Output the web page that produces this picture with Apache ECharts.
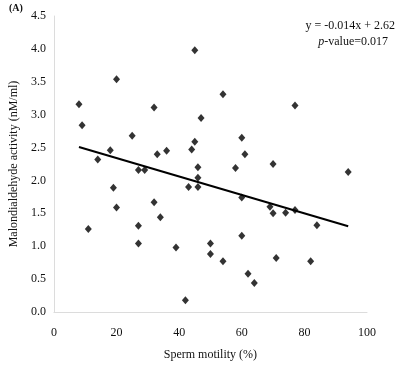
<!DOCTYPE html>
<html>
<head>
<meta charset="utf-8">
<script src="https://cdn.jsdelivr.net/npm/echarts@6/dist/echarts.min.js"></script>
<style>
html,body{margin:0;padding:0;background:#fff;}
#main{width:399px;height:366px;}
</style>
</head>
<body>
<div id="main"></div>
<script>
var myChart = echarts.init(document.getElementById('main'));

// sperm motility (%)
var motility = [8,9,11,14,18,19,20,20,25,27,27,27,29,32,32,33,34,36,39,42,43,44,45,45,46,46,46,47,50,50,54,54,58,60,60,60,61,62,64,69,70,70,71,74,77,77,82,84,94];
// malondialdehyde activity (nM/ml)
var mda = [3.16,2.84,1.26,2.32,2.46,1.89,3.54,1.59,2.68,2.16,1.31,1.04,2.16,3.11,1.67,2.40,1.44,2.45,0.98,0.18,1.90,2.47,3.98,2.59,2.20,2.04,1.90,2.95,1.04,0.88,3.31,0.77,2.19,2.65,1.74,1.16,2.40,0.58,0.44,1.60,2.25,1.50,0.82,1.51,3.14,1.55,0.77,1.32,2.13];
var slope = -0.014, intercept = 2.62;
var lineX = [8, 94];

var points = [];
for (var i = 0; i < motility.length; i++) {
    points.push([motility[i], mda[i]]);
}
var lineData = [];
for (var j = 0; j < lineX.length; j++) {
    lineData.push([lineX[j], intercept + slope * lineX[j]]);
}

var font = 'Liberation Serif';
var option = {
    animation: false,
    grid: {left: 53, right: 32, top: 16, bottom: 52},
    xAxis: {
        type: 'value', min: 0, max: 100, interval: 20,
        name: 'Sperm motility (%)', nameLocation: 'middle', nameGap: 37,
        nameTextStyle: {fontFamily: font, fontSize: 12, color: '#111'},
        axisLine: {lineStyle: {color: '#dcdcdc'}},
        axisTick: {show: false},
        splitLine: {show: false},
        axisLabel: {fontFamily: font, fontSize: 12, color: '#111', margin: 15}
    },
    yAxis: {
        type: 'value', min: 0, max: 4.5, interval: 0.5,
        name: 'Malondialdehyde activity (nM/ml)', nameLocation: 'middle', nameGap: 29,
        nameTextStyle: {fontFamily: font, fontSize: 12, color: '#111'},
        axisLine: {show: true, lineStyle: {color: '#dcdcdc'}},
        axisTick: {show: false},
        splitLine: {show: false},
        axisLabel: {
            fontFamily: font, fontSize: 12, color: '#111', margin: 8,
            formatter: function (v) { return v.toFixed(1); }
        }
    },
    series: [{
        type: 'scatter',
        symbol: 'diamond',
        symbolSize: [7, 8],
        itemStyle: {color: '#000'},
        data: points
    }, {
        type: 'line',
        symbol: 'none',
        lineStyle: {color: '#000', width: 2},
        data: lineData
    }],
    graphic: [{
        type: 'text', left: 9, top: 3,
        style: {text: '(A)', font: 'bold 10px Liberation Serif', fill: '#111'}
    }, {
        type: 'text', right: 4, top: 20,
        style: {text: 'y = -0.014x + 2.62', font: '12px Liberation Serif', fill: '#111'}
    }, {
        type: 'text', right: 11, top: 36,
        style: {
            text: '{i|p}-value=0.017',
            font: '12px Liberation Serif', fill: '#111',
            rich: {i: {fontStyle: 'italic', fontFamily: font, fontSize: 12}}
        }
    }]
};
myChart.setOption(option);
</script>
</body>
</html>
